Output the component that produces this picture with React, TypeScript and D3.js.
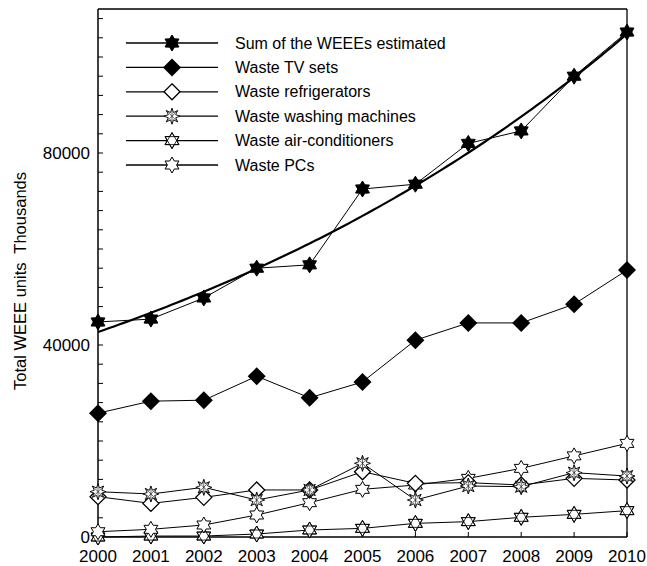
import React from "react";
import * as d3 from "d3";

const years = [2000, 2001, 2002, 2003, 2004, 2005, 2006, 2007, 2008, 2009, 2010];
const sumWeee = [44800, 45400, 49800, 56000, 56700, 72500, 73500, 82000, 84600, 96000, 105200];
const tvSets = [25800, 28300, 28500, 33500, 29000, 32300, 41000, 44600, 44600, 48500, 55600];
const refrigerators = [8400, 7000, 8260, 9800, 9800, 13600, 11180, 11320, 10830, 12220, 11870];
const washingMachines = [9440, 8960, 10350, 7700, 9800, 15350, 7700, 10620, 10490, 13400, 12700];
const airConditioners = [0, 200, 200, 620, 1460, 1800, 2840, 3200, 4100, 4720, 5490];
const pcs = [1100, 1600, 2500, 4580, 7150, 9930, 10830, 12220, 14300, 16900, 19500];
const yTickLabels = [0, 40000, 80000];
const seriesNames = [
  "Sum of the WEEEs estimated",
  "Waste TV sets",
  "Waste refrigerators",
  "Waste washing machines",
  "Waste air-conditioners",
  "Waste PCs",
];

const W = 647, H = 566;
const L = 98, R = 627, T = 9, B = 537;
const FONT = "Liberation Sans, Arial, sans-serif";

function starPath(n: number, ro: number, ri: number, rot = -Math.PI / 2) {
  const pts: string[] = [];
  for (let i = 0; i < 2 * n; i++) {
    const r = i % 2 === 0 ? ro : ri;
    const a = rot + (i * Math.PI) / n;
    pts.push(`${(r * Math.cos(a)).toFixed(2)},${(r * Math.sin(a)).toFixed(2)}`);
  }
  return "M" + pts.join("L") + "Z";
}

function triPath(r: number, rot: number) {
  const pts: string[] = [];
  for (let i = 0; i < 3; i++) {
    const a = rot + (i * 2 * Math.PI) / 3;
    pts.push(`${(r * Math.cos(a)).toFixed(2)},${(r * Math.sin(a)).toFixed(2)}`);
  }
  return "M" + pts.join("L") + "Z";
}

function Marker({ kind, x, y }: { kind: number; x: number; y: number }) {
  const t = `translate(${x},${y})`;
  if (kind === 0) {
    return <path transform={t} d={starPath(6, 8, 4.8)} fill="#000" stroke="#000" strokeWidth={1} />;
  }
  if (kind === 1) {
    return <path transform={t} d="M0,-9L9,0L0,9L-9,0Z" fill="#000" />;
  }
  if (kind === 2) {
    return <path transform={t} d="M0,-8L8,0L0,8L-8,0Z" fill="#fff" stroke="#000" strokeWidth={1.3} />;
  }
  if (kind === 3) {
    return (
      <g transform={t}>
        <path d={starPath(8, 8, 4, -Math.PI / 2)} fill="#fff" stroke="#000" strokeWidth={0.9} />
        <path d="M0,-8V8M-5.7,-5.7L5.7,5.7M5.7,-5.7L-5.7,5.7" stroke="#000" strokeWidth={0.6} />
      </g>
    );
  }
  if (kind === 4) {
    return (
      <g transform={t}>
        <path d={starPath(6, 8, 4.6)} fill="#fff" stroke="#000" strokeWidth={1} />
        <path d={triPath(8, -Math.PI / 2)} fill="none" stroke="#000" strokeWidth={0.8} />
        <path d={triPath(8, Math.PI / 2)} fill="none" stroke="#000" strokeWidth={0.8} />
      </g>
    );
  }
  return <path transform={t} d={starPath(6, 8, 4.6)} fill="#fff" stroke="#000" strokeWidth={1} />;
}

export default function App() {
  const x = d3.scaleLinear().domain([2000, 2010]).range([L, R]);
  const y = d3.scaleLinear().domain([0, 110000]).range([B, T]);

  const series = [sumWeee, tvSets, refrigerators, washingMachines, airConditioners, pcs];

  // exponential trend fitted to the sum series
  const lnv = sumWeee.map((v) => Math.log(v));
  const mx = d3.mean(years)!;
  const my = d3.mean(lnv)!;
  let sxy = 0, sxx = 0;
  years.forEach((yr, i) => {
    sxy += (yr - mx) * (lnv[i] - my);
    sxx += (yr - mx) * (yr - mx);
  });
  const slope = sxy / sxx;
  const icpt = my - slope * mx;
  const trendX = d3.range(2000, 2010.001, 0.1);
  const trendLine = d3
    .line<number>()
    .x((d) => x(d))
    .y((d) => y(Math.exp(icpt + slope * d)));

  const line = d3
    .line<number>()
    .x((_, i) => x(years[i]))
    .y((d) => y(d));

  const minorTicks = d3.range(0, 110001, 4000);
  const legendY = (i: number) => 43 + i * 24.4;

  const order = [4, 5, 2, 3, 1, 0];

  return (
    <svg width={W} height={H} style={{ position: "absolute", left: 0, top: 0 }}>
      <rect x={0} y={0} width={W} height={H} fill="#fff" />
      <line x1={L} x2={R} y1={T} y2={T} stroke="#000" strokeWidth={1.3} />
      <line x1={R} x2={R} y1={T} y2={B} stroke="#000" strokeWidth={1.3} />
      <line x1={L} x2={L} y1={T} y2={B} stroke="#000" strokeWidth={1.5} />
      <line x1={L} x2={R} y1={B} y2={B} stroke="#000" strokeWidth={1.5} />
      {minorTicks.map((v) => (
        <line key={"yt" + v} x1={L} x2={L + 5} y1={y(v)} y2={y(v)} stroke="#000" strokeWidth={1} />
      ))}
      {years.map((yr) => (
        <line key={"xt" + yr} x1={x(yr)} x2={x(yr)} y1={B} y2={B - 5} stroke="#000" strokeWidth={1} />
      ))}
      {yTickLabels.map((v) => (
        <text key={"yl" + v} x={L - 8} y={y(v)} dy="0.35em" textAnchor="end" fontFamily={FONT} fontSize={17} fill="#000">
          {v}
        </text>
      ))}
      {years.map((yr) => (
        <text key={"xl" + yr} x={x(yr)} y={562} textAnchor="middle" fontFamily={FONT} fontSize={17} fill="#000">
          {yr}
        </text>
      ))}
      <text
        transform={`translate(26,281) rotate(-90)`}
        textAnchor="middle"
        fontFamily={FONT}
        fontSize={16.5}
        fill="#000"
        style={{ whiteSpace: "pre" }}
      >
        {"Total WEEE units  Thousands"}
      </text>

      {order.map((k) => (
        <path key={"l" + k} d={line(series[k]) || ""} fill="none" stroke="#000" strokeWidth={1} />
      ))}
      <path d={trendLine(trendX) || ""} fill="none" stroke="#000" strokeWidth={2.2} />
      {order.map((k) =>
        series[k].map((v, i) => <Marker key={`m${k}-${i}`} kind={k} x={x(years[i])} y={y(v)} />)
      )}

      {seriesNames.map((name, i) => (
        <g key={"lg" + i}>
          <line x1={126} x2={218} y1={legendY(i)} y2={legendY(i)} stroke="#000" strokeWidth={1.3} />
          <Marker kind={i} x={172} y={legendY(i)} />
          <text x={235} y={legendY(i)} dy="0.35em" fontFamily={FONT} fontSize={16} fill="#000">
            {name}
          </text>
        </g>
      ))}
    </svg>
  );
}
